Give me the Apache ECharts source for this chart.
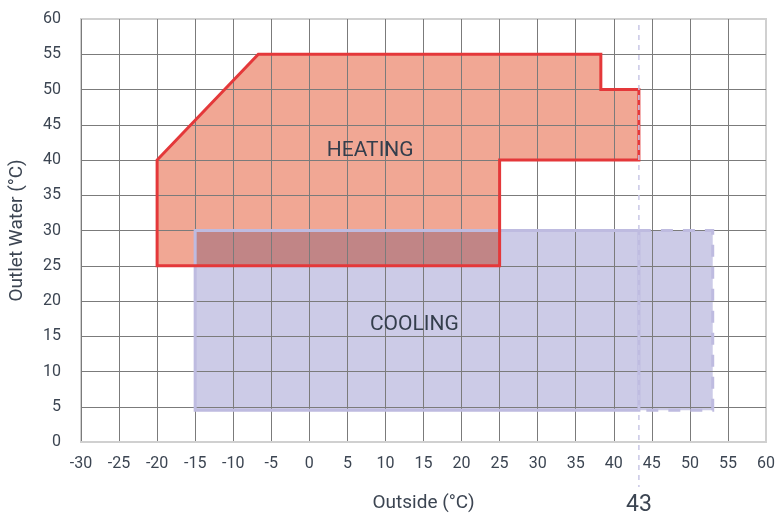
<!DOCTYPE html>
<html>
<head>
<meta charset="utf-8">
<script src="https://cdn.jsdelivr.net/npm/echarts@6/dist/echarts.min.js"></script>
<style>
  html, body { margin: 0; padding: 0; background: #fff; }
  #chart { width: 778px; height: 513px; }
</style>
</head>
<body>
<div id="chart"></div>
<script>
// operating envelope, outside temp (x) vs outlet water (y)
const X_MIN = -30, X_MAX = 60, X_STEP = 5;
const Y_MIN = 0, Y_MAX = 60, Y_STEP = 5;

const heatingX = [-20, -20, -6.7, 38.3, 38.3, 43.3, 43.3, 25, 25];
const heatingY = [25, 40, 55, 55, 50, 50, 40, 40, 25];

const coolingX = [-15, -15, 43.3, 43.3];
const coolingY = [4.5, 30, 30, 4.5];

// dashed extension of the cooling range
const coolingExtX = [43.3, 53, 53, 43.3];
const coolingExtY = [30, 30, 4.5, 4.5];

const markerX = 43.3;
const markerText = '43';

const regionLabels = ['HEATING', 'COOLING'];
const regionLabelX = [8, 13.8];
const regionLabelY = [41.3, 16.6];

const TEXT_COLOR = '#3c4552';
const FONT = 'Roboto';
const HEAT_FILL = '#f1a794';
const HEAT_LINE = '#e4383a';
const COOL_FILL = '#cccbe7';
const COOL_LINE = '#bebbe0';

// the two fills look multiplied where they overlap
function multiply(a, b) {
  let out = '#';
  for (let i = 1; i < 7; i += 2) {
    let v = Math.round(parseInt(a.substr(i, 2), 16) * parseInt(b.substr(i, 2), 16) / 255);
    out += ('0' + v.toString(16)).slice(-2);
  }
  return out;
}

// clip a polygon (data space) to an axis aligned box
function clipToBox(xs, ys, box) {
  let pts = xs.map((x, i) => [x, ys[i]]);
  let edges = [
    [p => p[0] >= box.x0, (a, b) => [box.x0, a[1] + (b[1] - a[1]) * (box.x0 - a[0]) / (b[0] - a[0])]],
    [p => p[0] <= box.x1, (a, b) => [box.x1, a[1] + (b[1] - a[1]) * (box.x1 - a[0]) / (b[0] - a[0])]],
    [p => p[1] >= box.y0, (a, b) => [a[0] + (b[0] - a[0]) * (box.y0 - a[1]) / (b[1] - a[1]), box.y0]],
    [p => p[1] <= box.y1, (a, b) => [a[0] + (b[0] - a[0]) * (box.y1 - a[1]) / (b[1] - a[1]), box.y1]]
  ];
  edges.forEach(([inside, cut]) => {
    let res = [];
    pts.forEach((cur, i) => {
      let prev = pts[(i + pts.length - 1) % pts.length];
      if (inside(cur)) {
        if (!inside(prev)) res.push(cut(prev, cur));
        res.push(cur);
      } else if (inside(prev)) {
        res.push(cut(prev, cur));
      }
    });
    pts = res;
  });
  return pts;
}

const coolBox = {
  x0: Math.min(...coolingX, ...coolingExtX), x1: Math.max(...coolingX, ...coolingExtX),
  y0: Math.min(...coolingY), y1: Math.max(...coolingY)
};
const overlap = clipToBox(heatingX, heatingY, coolBox);

const points = (api, xs, ys) => xs.map((x, i) => api.coord([x, ys[i]]));

let chart = echarts.init(document.getElementById('chart'), null, { renderer: 'canvas' });

let axisCommon = {
  type: 'value',
  z: 2,
  axisTick: { show: false },
  axisLabel: { color: TEXT_COLOR, fontSize: 16, fontFamily: FONT },
  nameLocation: 'middle',
  nameTextStyle: { color: TEXT_COLOR, fontSize: 19, fontFamily: FONT },
  splitLine: {
    show: true,
    showMaxLine: false,
    lineStyle: { color: '#7b7b7b', width: 1 }
  }
};

chart.setOption({
  backgroundColor: '#fff',
  animation: false,
  grid: {
    left: 81, right: 12, top: 19, bottom: 71,
    outerBoundsMode: 'none',
    containLabel: false,
    show: true,
    borderColor: '#d0d0d0',
    borderWidth: 2
  },
  xAxis: Object.assign({}, axisCommon, {
    min: X_MIN, max: X_MAX, interval: X_STEP,
    name: 'Outside (°C)',
    nameGap: 52,
    axisLine: { show: true, lineStyle: { color: '#d0d0d0', width: 2 } },
    axisLabel: Object.assign({}, axisCommon.axisLabel, { margin: 14 })
  }),
  yAxis: Object.assign({}, axisCommon, {
    min: Y_MIN, max: Y_MAX, interval: Y_STEP,
    name: 'Outlet Water (°C)',
    nameGap: 54,
    axisLine: { show: false },
    axisLabel: Object.assign({}, axisCommon.axisLabel, { margin: 20 }),
    splitLine: Object.assign({}, axisCommon.splitLine, { showMinLine: false })
  }),
  series: [
    {
      // fills, under the grid lines
      type: 'custom',
      z: 1,
      silent: true,
      data: [[0, 0]],
      renderItem: (params, api) => ({
        type: 'group',
        children: [
          { type: 'polygon', shape: { points: points(api, heatingX, heatingY) },
            style: { fill: HEAT_FILL } },
          { type: 'polygon', shape: { points: points(api, coolingX, coolingY) },
            style: { fill: COOL_FILL } },
          { type: 'polygon', shape: { points: points(api, coolingExtX, coolingExtY) },
            style: { fill: COOL_FILL } },
          { type: 'polygon', shape: { points: overlap.map(p => api.coord(p)) },
            style: { fill: multiply(HEAT_FILL, COOL_FILL) } }
        ]
      })
    },
    {
      // outlines, labels and the 43 marker
      type: 'custom',
      z: 3,
      silent: true,
      clip: false,
      data: [[0, 0]],
      renderItem: (params, api) => {
        let top = api.coord([markerX, Y_MAX]);
        let bottom = api.coord([markerX, Y_MIN]);
        let children = [
          { type: 'polygon', shape: { points: points(api, coolingX, coolingY) },
            style: { fill: null, stroke: COOL_LINE, lineWidth: 3 } },
          { type: 'polyline', shape: { points: points(api, coolingExtX, coolingExtY) },
            style: { fill: null, stroke: COOL_LINE, lineWidth: 3, lineDash: [12, 10] } },
          { type: 'polygon', shape: { points: points(api, heatingX, heatingY) },
            style: { fill: null, stroke: HEAT_LINE, lineWidth: 3, lineJoin: 'miter' } },
          { type: 'line',
            shape: { x1: top[0], y1: top[1] + 6, x2: bottom[0], y2: bottom[1] + 45 },
            style: { stroke: '#c9c7e6', lineWidth: 1.5, lineDash: [5, 5] } },
          { type: 'text', x: bottom[0], y: bottom[1] + 63,
            style: { text: markerText, fill: TEXT_COLOR, fontSize: 23, fontFamily: FONT,
                     align: 'center', verticalAlign: 'middle' } }
        ];
        regionLabels.forEach((label, i) => {
          let p = api.coord([regionLabelX[i], regionLabelY[i]]);
          children.push({
            type: 'text', x: p[0], y: p[1],
            style: { text: label, fill: '#343e4c', fontSize: 21, fontFamily: FONT,
                     align: 'center', verticalAlign: 'middle' }
          });
        });
        return { type: 'group', children };
      }
    }
  ]
});
</script>
</body>
</html>
